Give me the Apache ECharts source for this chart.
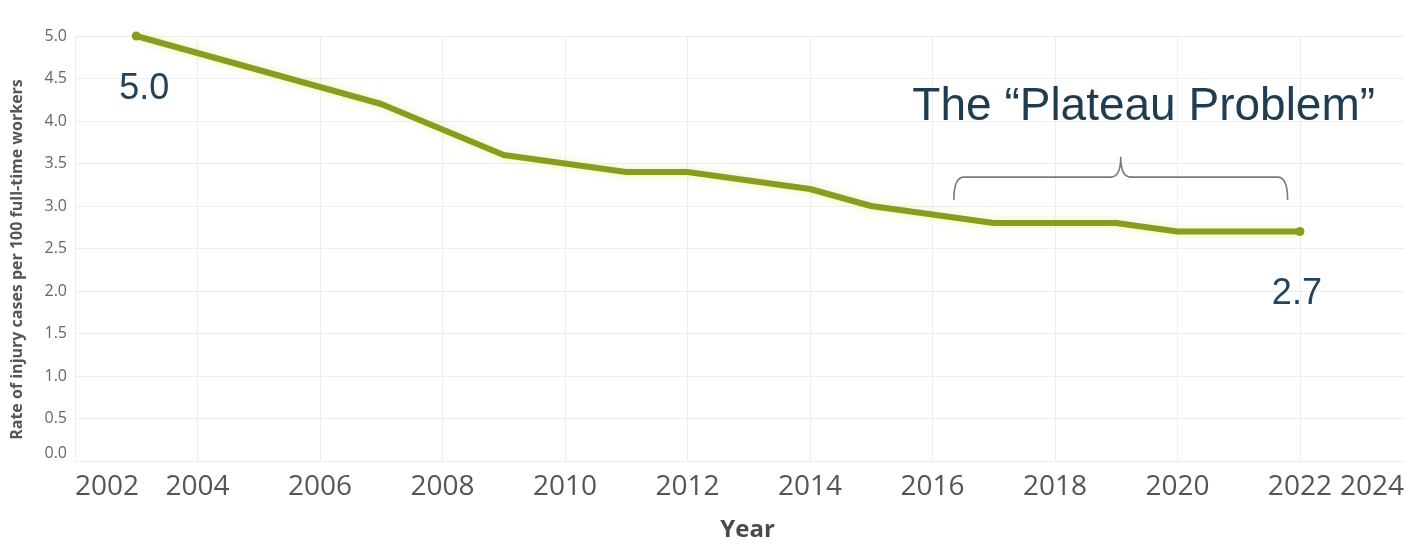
<!DOCTYPE html>
<html>
<head>
<meta charset="utf-8">
<script src="https://cdn.jsdelivr.net/npm/echarts@6/dist/echarts.min.js"></script>
<style>
  html, body { margin: 0; padding: 0; background: #ffffff; }
  #chart { width: 1415px; height: 551px; }
</style>
</head>
<body>
<div id="chart"></div>
<script>
// injury rate per 100 full-time workers, 2003-2022
var years = [2003, 2004, 2005, 2006, 2007, 2008, 2009, 2010, 2011, 2012,
             2013, 2014, 2015, 2016, 2017, 2018, 2019, 2020, 2021, 2022];
var rates = [5.0, 4.8, 4.6, 4.4, 4.2, 3.9, 3.6, 3.5, 3.4, 3.4,
             3.3, 3.2, 3.0, 2.9, 2.8, 2.8, 2.8, 2.7, 2.7, 2.7];

// x tick labels (last label sits at the right edge of the axis)
var xTickYears = [2002, 2004, 2006, 2008, 2010, 2012, 2014, 2016, 2018, 2020, 2022];
var xTickLabels = ['2002', '2004', '2006', '2008', '2010', '2012', '2014', '2016', '2018', '2020', '2022', '2024'];
var xMin = 2002, xMax = 2023.7;

// "plateau" brace, in data units: [fromYear, toYear, braceRate, notchRate, endRate]
var plateauBrace = [2016.35, 2021.8, 3.34, 3.58, 3.07];
var plateauTitle = 'The \u201cPlateau Problem\u201d';
var plateauTitleAt = [2019.45, 4.16];

var lineColor = '#8a9b20';
var noteColor = '#24435a';

var lineData = years.map(function (y, i) {
    var item = { value: [y, rates[i]] };
    if (i === 0) {
        item.label = { show: true, position: 'bottom', distance: 31, offset: [8, 0] };
    } else if (i === years.length - 1) {
        item.label = { show: true, position: 'bottom', distance: 40, offset: [-3, 0] };
    }
    return item;
});

var xLabelValues = xTickYears.concat([xMax]);

var option = {
    backgroundColor: '#ffffff',
    animation: false,
    grid: { left: 75, right: 11, top: 36, bottom: 90 },
    xAxis: {
        type: 'value',
        min: xMin,
        max: xMax,
        interval: 2,
        name: 'Year',
        nameLocation: 'middle',
        nameGap: 57,
        nameTextStyle: { fontFamily: 'Open Sans', fontSize: 24, fontWeight: 'bold', color: '#4a4a4a', padding: [0, 0, 0, 16] },
        axisLine: { show: false },
        axisTick: { show: false, customValues: xTickYears },
        splitLine: { show: true, lineStyle: { color: '#eeeeee', width: 1 } },
        axisLabel: {
            customValues: xLabelValues,
            showMinLabel: true,
            showMaxLabel: true,
            hideOverlap: false,
            margin: 12,
            fontFamily: 'Open Sans',
            fontSize: 28,
            color: '#555555',
            alignMinLabel: 'left',
            alignMaxLabel: 'right',
            formatter: function (v) {
                for (var i = 0; i < xLabelValues.length; i++) {
                    if (Math.abs(xLabelValues[i] - v) < 1e-6) return xTickLabels[i];
                }
                return '';
            }
        }
    },
    yAxis: {
        type: 'value',
        min: 0,
        max: 5,
        interval: 0.5,
        name: 'Rate of injury cases per 100 full-time workers',
        nameLocation: 'middle',
        nameGap: 50,
        nameTextStyle: { fontFamily: 'Open Sans', fontSize: 16, fontWeight: 'bold', color: '#555555', padding: [0, 22, 0, 0] },
        axisLine: { show: false },
        axisTick: { show: false },
        splitLine: { lineStyle: { color: '#eeeeee', width: 1 } },
        axisLabel: {
            margin: 8,
            fontFamily: 'Open Sans',
            fontSize: 16,
            color: '#666666',
            verticalAlignMinLabel: 'bottom',
            formatter: function (v) { return v.toFixed(1); }
        }
    },
    series: [{
        type: 'line',
        data: lineData,
        clip: false,
        symbol: 'circle',
        symbolSize: function (val, params) {
            return (params.dataIndex === 0 || params.dataIndex === years.length - 1) ? 9 : 0;
        },
        itemStyle: { color: lineColor },
        lineStyle: {
            color: lineColor,
            width: 6,
            join: 'round',
            shadowColor: 'rgba(225, 235, 120, 0.6)',
            shadowBlur: 8
        },
        label: {
            show: false,
            fontFamily: 'Liberation Sans',
            fontSize: 36,
            color: noteColor,
            formatter: function (p) { return p.value[1].toFixed(1); }
        },
        z: 3
    }, {
        type: 'custom',
        data: [plateauBrace],
        encode: { x: [0, 1], y: [2, 3, 4] },
        clip: false,
        silent: true,
        renderItem: function (params, api) {
            var left = api.coord([api.value(0), api.value(2)]);
            var right = api.coord([api.value(1), api.value(2)]);
            var mid = api.coord([(api.value(0) + api.value(1)) / 2, api.value(3)]);
            var endY = api.coord([api.value(0), api.value(4)])[1];
            var x0 = left[0], x1 = right[0], y = left[1], xc = mid[0], top = mid[1], r = 10;
            var path = 'M' + x0 + ' ' + endY +
                ' Q' + x0 + ' ' + y + ' ' + (x0 + r) + ' ' + y +
                ' L' + (xc - r) + ' ' + y +
                ' Q' + xc + ' ' + y + ' ' + xc + ' ' + top +
                ' M' + x1 + ' ' + endY +
                ' Q' + x1 + ' ' + y + ' ' + (x1 - r) + ' ' + y +
                ' L' + (xc + r) + ' ' + y +
                ' Q' + xc + ' ' + y + ' ' + xc + ' ' + top;
            var titlePos = api.coord(plateauTitleAt);
            return {
                type: 'group',
                children: [{
                    type: 'path',
                    shape: { pathData: path },
                    style: { fill: null, stroke: '#7a7a7a', lineWidth: 1.6 }
                }, {
                    type: 'text',
                    x: titlePos[0],
                    y: titlePos[1],
                    style: {
                        text: plateauTitle,
                        fontFamily: 'Liberation Sans',
                        fontSize: 46,
                        fill: '#1f3c50',
                        align: 'center',
                        verticalAlign: 'middle'
                    }
                }]
            };
        },
        z: 2
    }]
};

var myChart = echarts.init(document.getElementById('chart'));
myChart.setOption(option);
</script>
</body>
</html>
